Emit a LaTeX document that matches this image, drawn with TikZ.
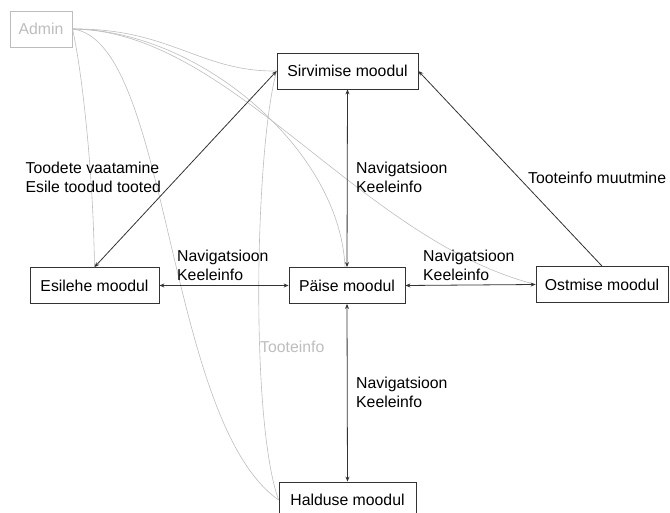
\documentclass[tikz,border=0pt]{standalone}
\usepackage{fontspec}
\setmainfont{Liberation Sans}
\usetikzlibrary{arrows.meta}
\definecolor{admgray}{HTML}{BDBDBD}
\definecolor{linegray}{HTML}{333333}
\begin{document}
\begin{tikzpicture}[x=1pt,y=1pt,
 box/.style={draw=linegray,line width=0.8pt,minimum height=36pt,inner sep=0pt,font=\fontsize{15.8}{19}\selectfont},
 lbl/.style={align=left,anchor=west,inner sep=0pt,font=\fontsize{15.8}{19}\selectfont},
 link/.style={draw=linegray,line width=0.8pt,{Stealth[length=5pt,width=4pt]}-{Stealth[length=5pt,width=4pt]}},
 onelink/.style={draw=linegray,line width=0.8pt,-{Stealth[length=5pt,width=4pt]}},
 admlink/.style={draw=admgray,line width=0.6pt}]
 \useasboundingbox (0,0) rectangle (670,-513);
 % modules
 \node[box,draw=admgray,text=admgray,minimum width=62pt] (admin) at (41,-29) {Admin};
 \node[box,minimum width=141pt] (sirv) at (347.5,-71) {Sirvimise moodul};
 \node[box,minimum width=129pt] (esil) at (94.5,-285.5) {Esilehe moodul};
 \node[box,minimum width=116pt] (paise) at (347,-285.5) {Päise moodul};
 \node[box,minimum width=132pt] (ostm) at (602,-284.5) {Ostmise moodul};
 \node[box,minimum width=137pt] (hald) at (347.5,-500) {Halduse moodul};
 % admin links
 \draw[admlink] (admin.east) .. controls (170,-28) and (200,-72) .. (sirv.west);
 \draw[admlink] (admin.east) .. controls (200,-30) and (340,-150) .. ([xshift=-2pt]paise.north);
 \draw[admlink] (admin.east) .. controls (230,-30) and (360,-240) .. (ostm.west);
 \draw[admlink] (admin.east) .. controls (80,-60) and (93,-160) .. (esil.north);
 \draw[admlink] (admin.east) .. controls (170,-40) and (165,-420) .. (hald.west);
 \draw[admlink] (sirv.west) .. controls (255,-150) and (250,-420) .. (hald.west);
 % module links
 \draw[link] (esil.north) -- (sirv.west);
 \draw[link] (sirv.south) -- (paise.north);
 \draw[onelink] (ostm.north) -- (sirv.east);
 \draw[link] (esil.east) -- (paise.west);
 \draw[link] (paise.east) -- (ostm.west);
 \draw[link] (paise.south) -- (hald.north);
 % labels
 \node[lbl] (lesil) at (25.5,-177.5) {Toodete vaatamine\\Esile toodud tooted};
 \node[lbl] (lsirv) at (356,-177) {Navigatsioon\\Keeleinfo};
 \node[lbl] (lostm) at (528,-177.5) {Tooteinfo muutmine};
 \node[lbl] (lesp) at (177,-265.5) {Navigatsioon\\Keeleinfo};
 \node[lbl] (lpos) at (423,-265) {Navigatsioon\\Keeleinfo};
 \node[lbl] (lhald) at (356,-392) {Navigatsioon\\Keeleinfo};
 \node[lbl,text=admgray] (ltoot) at (260,-347) {Tooteinfo};
\end{tikzpicture}
\end{document}
